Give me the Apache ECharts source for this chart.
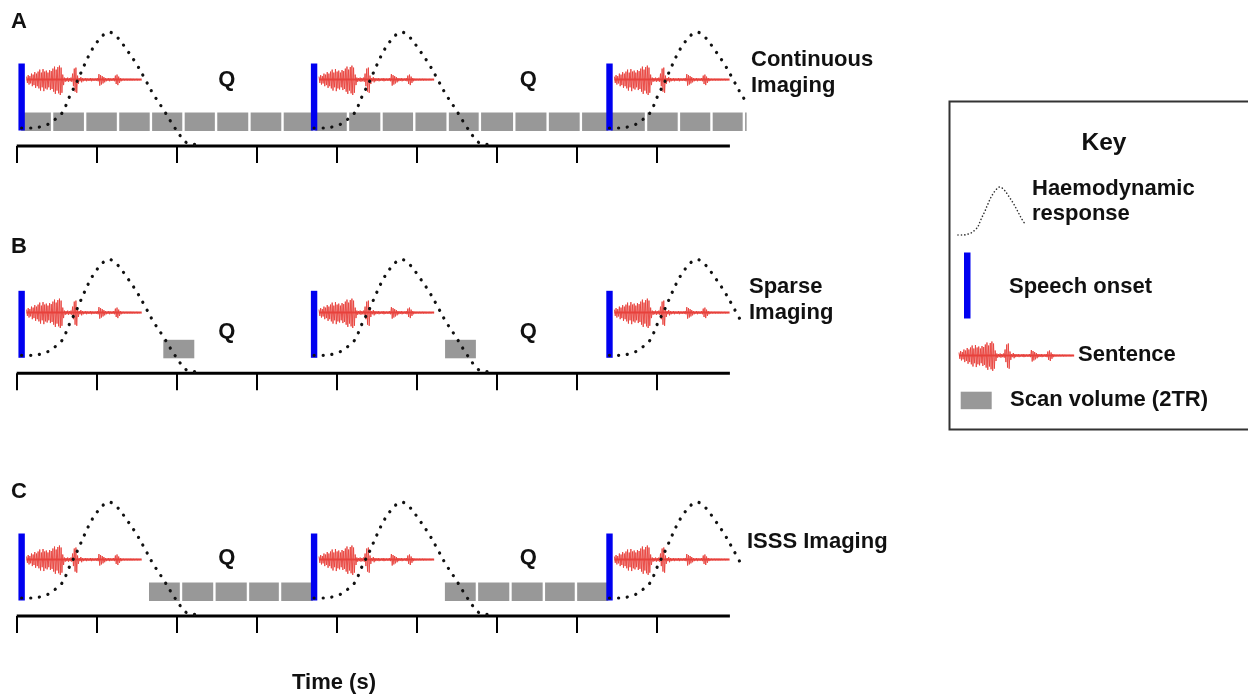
<!DOCTYPE html>
<html><head><meta charset="utf-8">
<script src="https://cdn.jsdelivr.net/npm/echarts@6/dist/echarts.min.js"></script>
<style>html,body{margin:0;padding:0;background:#fff}#c{width:1248px;height:696px}</style>
</head><body><div id="c"></div>
<script>
// ---------------- data ----------------
const onsets = [0.3, 18.08, 36.04];                 // speech onsets (s)
const timeSpan = [0, 43.36];                         // extent of the drawn time axis (s)
const tickValues = [0, 4.86, 9.73, 14.59, 19.45, 24.32, 29.18, 34.04, 38.91];
const qTimes = [12.77, 31.1];                        // quiet period labels (s)
// haemodynamic response shape: time after onset (s) and amplitude
const hrfT = [0, 0.7, 1.2, 1.7, 2.1, 2.5, 2.9, 3.4, 3.8, 4.3, 4.9, 5.3, 5.8, 6.4, 7.0, 7.5, 8.0, 8.6, 9.2, 9.8, 10.2, 10.9];
const hrfY = [18, 18, 19.5, 22.5, 27.5, 34, 49, 65.5, 80.5, 97, 110, 114, 109, 96, 81.5, 67, 52, 37, 21, 7, 2, 1.5];
const hrfCutoffs = [8.45, 8.0, 8.0];                 // last (truncated) response per panel
// sentence waveform envelope, one value per 0.1 s
const sentenceEnvelope = [3, 4.5, 3.5, 6, 5, 7.5, 6, 8, 10, 7, 10.5, 8, 9, 7, 9.5, 8.5,
  11, 13, 10, 12.5, 14, 12, 5, 2, 1.5, 2, 1.5, 2, 6, 11, 12, 4,
  1.5, 2.5, 1.5, 1, 1.5, 1, 1, 1.5, 1, 1, 1, 1.5,
  5.5, 4.5, 3.5, 2.5, 1.5, 1, 1.5, 1, 1, 1.5, 4, 5, 3, 1.5,
  0.8, 0.8, 0.7, 0.8, 0.7, 0.8, 0.7, 0.7, 0.6, 0.7, 0.6, 0.6];
const SENT_OFFSET = 0.3, SENT_STEP = 0.1;
// scan volumes [start, end] (s)
const scansA = [[0.2,2.15],[2.15,4.16],[4.16,6.16],[6.16,8.16],[8.16,10.14],[10.14,12.12],[12.12,14.15],[14.15,16.16],[16.16,18.08],
  [18.08,20.14],[20.14,22.18],[22.18,24.17],[24.17,26.2],[26.2,28.16],[28.16,30.25],[30.25,32.28],[32.28,34.3],[34.3,36.04],
  [36.04,38.26],[38.26,40.26],[40.26,42.24],[42.24,44.21],[44.21,44.45]];
const scansB = [[8.84,10.87],[25.97,27.99]];
const scansC = [[7.97,9.99],[9.99,12.02],[12.02,14.06],[14.06,16.01],[16.01,18.08],
  [25.96,27.98],[27.98,30.02],[30.02,32.05],[32.05,34.0],[34.0,36.04]];
const panelLetters = ['A', 'B', 'C'];
const panelTitles = ['Continuous\nImaging', 'Sparse\nImaging', 'ISSS Imaging'];

// ---------------- layout / style ----------------
const FONT = '"Liberation Sans", Arial, Helvetica, sans-serif';
const TXT = 'bold 22px ' + FONT;
const RED = '#e8413c', BLUE = '#0000f0', GRAY = '#989898', INK = '#111';
const X_MAX = 45.19, Y_MAX = 130;
const panels = [
  {axisY: 146, waveY: 66.4, qY: 66.4, scans: scansA, titleX: 751, titleY: 73, letterY: 22},
  {axisY: 373.3, waveY: 60.7, qY: 41.3, scans: scansB, titleX: 749, titleY: 300, letterY: 247},
  {axisY: 616, waveY: 56.5, qY: 58.2, scans: scansC, titleX: 747, titleY: 542, letterY: 492}
];

function hrfInterp(t) {
  for (let i = 1; i < hrfT.length; i++) {
    if (t <= hrfT[i]) {
      const f = (t - hrfT[i-1]) / (hrfT[i] - hrfT[i-1]);
      return hrfY[i-1] + f * (hrfY[i] - hrfY[i-1]);
    }
  }
  return hrfY[hrfY.length - 1];
}
function hrfPoints(cut) {
  const pts = [];
  hrfT.forEach((t, i) => { if (t <= cut) pts.push([t, hrfY[i]]); });
  if (cut < hrfT[hrfT.length - 1]) pts.push([cut, hrfInterp(cut)]);
  return pts;
}
const centered = {align: 'center', verticalAlign: 'middle', textAlign: 'center', textVerticalAlign: 'middle'};
const leftMid = {align: 'left', verticalAlign: 'middle', textAlign: 'left', textVerticalAlign: 'middle'};

const grids = [], xAxes = [], yAxes = [], series = [], graphics = [];
panels.forEach((p, pi) => {
  grids.push({left: 16.7, right: 1248 - 760, top: p.axisY - Y_MAX, height: Y_MAX});
  xAxes.push({type: 'value', gridIndex: pi, min: 0, max: X_MAX,
    axisLine: {show: false},
    axisTick: {show: true, customValues: tickValues, length: 17, lineStyle: {color: '#000', width: 2}},
    axisLabel: {show: false}, splitLine: {show: false}});
  yAxes.push({type: 'value', gridIndex: pi, min: 0, max: Y_MAX, show: false});

  // time axis baseline
  series.push({type: 'custom', xAxisIndex: pi, yAxisIndex: pi, z: 1, clip: false, silent: true,
    data: [timeSpan],
    renderItem: (params, api) => {
      const a = api.coord([api.value(0), 0]);
      const b = api.coord([api.value(1), 0]);
      return {type: 'line', shape: {x1: a[0], y1: a[1], x2: b[0], y2: b[1]}, style: {stroke: '#000', lineWidth: 3}};
    }});
  // scan volumes
  series.push({type: 'custom', xAxisIndex: pi, yAxisIndex: pi, z: 1, clip: false, silent: true,
    data: p.scans,
    renderItem: (params, api) => {
      const a = api.coord([api.value(0), 33.5]);
      const b = api.coord([api.value(1), 15]);
      return {type: 'rect', shape: {x: a[0] + 1.2, y: a[1], width: Math.max(b[0] - a[0] - 2.4, 0.5), height: b[1] - a[1]},
        style: {fill: GRAY}};
    }});
  // speech onsets
  series.push({type: 'custom', xAxisIndex: pi, yAxisIndex: pi, z: 2, clip: false, silent: true,
    data: onsets.map(o => [o]),
    renderItem: (params, api) => {
      const a = api.coord([api.value(0), 82.5]);
      const b = api.coord([api.value(0), 15.5]);
      return {type: 'rect', shape: {x: a[0] - 3.2, y: a[1], width: 6.4, height: b[1] - a[1]}, style: {fill: BLUE}};
    }});
  // sentences
  series.push({type: 'custom', xAxisIndex: pi, yAxisIndex: pi, z: 3, clip: false, silent: true,
    data: onsets.map(o => [o]),
    renderItem: (params, api) => {
      const o = api.value(0);
      const pts = [];
      sentenceEnvelope.forEach((a, i) => {
        const t = o + SENT_OFFSET + i * SENT_STEP;
        pts.push(api.coord([t, p.waveY + a]));
        pts.push(api.coord([t + SENT_STEP / 2, p.waveY - a * 1.1]));
      });
      const s = api.coord([o + SENT_OFFSET, p.waveY]);
      const e = api.coord([o + SENT_OFFSET + sentenceEnvelope.length * SENT_STEP, p.waveY]);
      return {type: 'group', children: [
        {type: 'line', shape: {x1: s[0], y1: s[1], x2: e[0], y2: e[1]}, style: {stroke: RED, lineWidth: 2}},
        {type: 'polyline', shape: {points: pts}, style: {stroke: RED, lineWidth: 1, fill: null, opacity: 0.9}}
      ]};
    }});
  // Q labels
  series.push({type: 'custom', xAxisIndex: pi, yAxisIndex: pi, z: 3, clip: false, silent: true,
    data: qTimes.map(q => [q]),
    renderItem: (params, api) => {
      const a = api.coord([api.value(0), p.qY]);
      return {type: 'text', x: a[0], y: a[1], style: Object.assign({text: 'Q', font: TXT, fill: INK}, centered)};
    }});
  // haemodynamic responses
  onsets.forEach((o, k) => {
    const cut = k === onsets.length - 1 ? hrfCutoffs[pi] : hrfT[hrfT.length - 1];
    series.push({type: 'line', xAxisIndex: pi, yAxisIndex: pi, z: 4, clip: false, silent: true,
      data: hrfPoints(cut).map(d => [o + d[0], d[1]]),
      symbol: 'none', smooth: 0.35,
      lineStyle: {color: INK, width: 3.2, type: [0.1, 8.8], cap: 'round'}});
  });

  graphics.push({type: 'text', x: 11, y: p.letterY, style: Object.assign({text: panelLetters[pi], font: TXT, fill: INK}, leftMid)});
  graphics.push({type: 'text', x: p.titleX, y: p.titleY, style: Object.assign({text: panelTitles[pi], font: TXT, fill: INK, lineHeight: 25.5}, leftMid)});
});

graphics.push({type: 'text', x: 334, y: 683, style: Object.assign({text: 'Time (s)', font: TXT, fill: INK}, centered)});

// ---------------- key ----------------
graphics.push({type: 'rect', shape: {x: 949.5, y: 101.5, width: 320, height: 328}, style: {fill: 'none', stroke: '#333', lineWidth: 2}});
graphics.push({type: 'text', x: 1104, y: 143, style: Object.assign({text: 'Key', font: 'bold 24.5px ' + FONT, fill: INK}, centered)});
const keyCurve = hrfPoints(8.45).map(d => [958 + d[0] * 7.9, 235 - (d[1] - 18) * 0.5]);
graphics.push({type: 'polyline', shape: {points: keyCurve, smooth: 0.35},
  style: {fill: null, stroke: '#333', lineWidth: 1.6, lineDash: [0.1, 3.3], lineCap: 'round'}});
graphics.push({type: 'text', x: 1032, y: 201, style: Object.assign({text: 'Haemodynamic\nresponse', font: TXT, fill: INK, lineHeight: 25}, leftMid)});
graphics.push({type: 'rect', shape: {x: 964, y: 252.5, width: 6.5, height: 66}, style: {fill: BLUE}});
graphics.push({type: 'text', x: 1009, y: 286.5, style: Object.assign({text: 'Speech onset', font: TXT, fill: INK}, leftMid)});
const keyWave = [];
sentenceEnvelope.forEach((a, i) => {
  keyWave.push([959 + i * 1.645, 355.5 - a]);
  keyWave.push([959 + (i + 0.5) * 1.645, 355.5 + a * 1.1]);
});
graphics.push({type: 'line', shape: {x1: 959, y1: 355.5, x2: 959 + sentenceEnvelope.length * 1.645, y2: 355.5}, style: {stroke: RED, lineWidth: 2}});
graphics.push({type: 'polyline', shape: {points: keyWave}, style: {fill: null, stroke: RED, lineWidth: 1, opacity: 0.9}});
graphics.push({type: 'text', x: 1078, y: 354.5, style: Object.assign({text: 'Sentence', font: TXT, fill: INK}, leftMid)});
graphics.push({type: 'rect', shape: {x: 960.7, y: 391.7, width: 31, height: 17.5}, style: {fill: GRAY}});
graphics.push({type: 'text', x: 1010, y: 400, style: Object.assign({text: 'Scan volume (2TR)', font: TXT, fill: INK}, leftMid)});

const chart = echarts.init(document.getElementById('c'), null, {renderer: 'canvas'});
chart.setOption({
  animation: false,
  backgroundColor: '#fff',
  grid: grids, xAxis: xAxes, yAxis: yAxes, series: series,
  graphic: graphics
});
</script></body></html>
